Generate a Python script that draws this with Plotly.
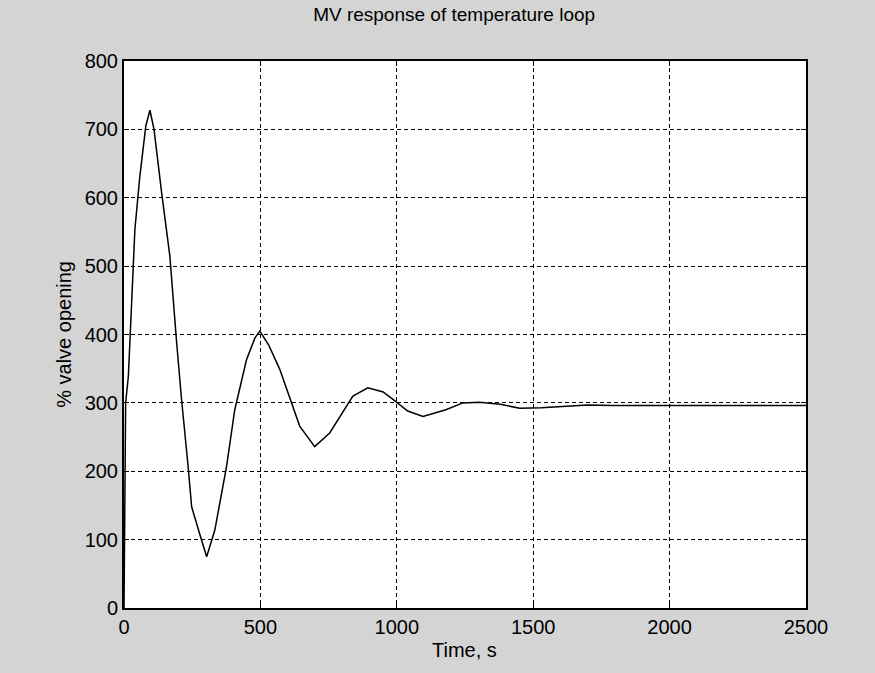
import plotly.graph_objects as go

time_s = [0, 6, 16, 26, 40, 58, 80, 95, 110, 138, 168, 193, 211, 235, 248, 280, 303, 333, 376, 406, 449, 480, 498,
          530, 571, 644, 699, 754, 800, 839, 894, 950, 986, 1040, 1096, 1180, 1242, 1303, 1380, 1450, 1530, 1608,
          1700, 1791, 1900, 2000, 2200, 2500]
valve_pct = [0, 300, 339, 420, 554, 631, 705, 728, 700, 607, 515, 388, 305, 207, 148, 105, 75, 114, 207, 290, 363, 395, 405,
             385, 349, 266, 236, 256, 285, 310, 322, 316, 305, 288, 280, 290, 300, 301, 298, 292, 293, 295,
             297, 296, 296, 296, 296, 296]

x_ticks = [0, 500, 1000, 1500, 2000, 2500]
y_ticks = [0, 100, 200, 300, 400, 500, 600, 700, 800]

FONT = "Liberation Sans, Arial"

fig = go.Figure()
fig.add_trace(go.Scatter(x=time_s, y=valve_pct, mode="lines",
                         line=dict(color="black", width=1.5), showlegend=False))

axis_common = dict(showgrid=True, gridcolor="black", griddash="4px,3px", gridwidth=1,
                   showline=True, linecolor="black", linewidth=2, mirror="ticks",
                   ticks="inside", ticklen=5, tickcolor="black", zeroline=False,
                   tickfont=dict(family=FONT, size=20, color="black"))

fig.update_xaxes(range=[0, 2500], tickvals=x_ticks, **axis_common)
fig.update_yaxes(range=[0, 800], tickvals=y_ticks, **axis_common)

fig.add_annotation(text="Time, s", xref="paper", yref="paper", x=0.499, y=-0.077,
                   xanchor="center", yanchor="middle", showarrow=False,
                   font=dict(family=FONT, size=20, color="black"))
fig.add_annotation(text="% valve opening", xref="paper", yref="paper", x=-0.089, y=0.5,
                   xanchor="center", yanchor="middle", textangle=-90, showarrow=False,
                   font=dict(family=FONT, size=20, color="black"))

fig.update_layout(
    width=875, height=673,
    margin=dict(l=124, r=69, t=61, b=65),
    paper_bgcolor="#d4d4d4", plot_bgcolor="white",
    title=dict(text="MV response of temperature loop", x=0.519, xanchor="center", y=0.988, yanchor="top",
               font=dict(family=FONT, size=19, color="black")),
)

fig.write_html("out.html")
